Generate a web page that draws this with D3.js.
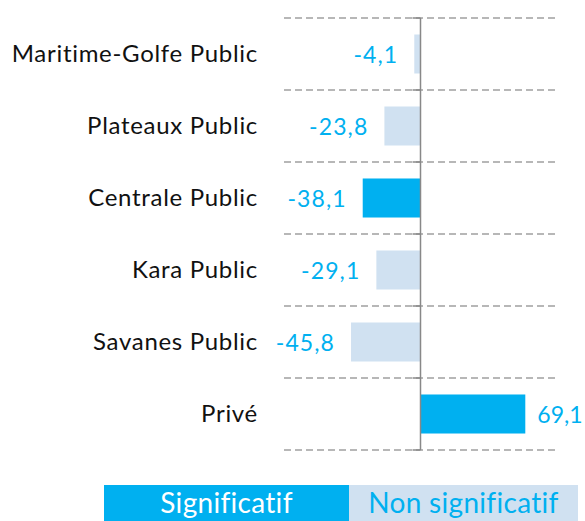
<!DOCTYPE html>
<html>
<head>
<meta charset="utf-8">
<script src="https://cdn.jsdelivr.net/npm/d3@7"></script>
<style>
  html, body { margin: 0; padding: 0; background: #fff; }
  svg { display: block; }
  text { font-family: Lato, "Open Sans", sans-serif; }
</style>
</head>
<body>
<svg id="chart" width="585" height="521"></svg>
<script>
const categories = ["Maritime-Golfe Public", "Plateaux Public", "Centrale Public", "Kara Public", "Savanes Public", "Privé"];
const values = [-4.1, -23.8, -38.1, -29.1, -45.8, 69.1];
const significant = [false, false, true, false, false, true];
const legendLabels = ["Significatif", "Non significatif"];

const colSig = "#00b0f0";
const colNon = "#d0e1f1";

const svg = d3.select("#chart");

const x = d3.scaleLinear().domain([-90, 90]).range([284, 557]);
const y = d3.scaleBand().domain(categories).range([18, 450]).paddingInner(0.458).paddingOuter(0.229);
const step = y.step();
const x0 = x(0);

// gridlines at band boundaries
const bounds = d3.range(categories.length + 1).map(i => 18 + i * step);
svg.append("g").selectAll("line").data(bounds).join("line")
  .attr("x1", x.range()[0]).attr("x2", x.range()[1])
  .attr("y1", d => d).attr("y2", d => d)
  .attr("stroke", "#a0a0a0").attr("stroke-width", 1.4)
  .attr("stroke-dasharray", "7,4");

const data = categories.map((c, i) => ({ c, v: values[i], s: significant[i] }));

// bars
svg.append("g").selectAll("rect").data(data).join("rect")
  .attr("x", d => Math.min(x(d.v), x0))
  .attr("width", d => Math.abs(x(d.v) - x0))
  .attr("y", d => y(d.c))
  .attr("height", y.bandwidth())
  .attr("fill", d => d.s ? colSig : colNon);

// zero axis
svg.append("line").attr("x1", x0).attr("x2", x0).attr("y1", bounds[0]).attr("y2", bounds[bounds.length - 1])
  .attr("stroke", "#888").attr("stroke-width", 1.5);
svg.append("g").selectAll("line").data(bounds).join("line")
  .attr("x1", x0 - 8).attr("x2", x0).attr("y1", d => d).attr("y2", d => d)
  .attr("stroke", "#888").attr("stroke-width", 1.5);

// value labels
const fmt = v => d3.format(".1f")(v).replace(".", ",").replace("−", "-");
svg.append("g").selectAll("text").data(data).join("text")
  .attr("x", d => d.v < 0 ? x(d.v) - 16 : x(d.v) + 12)
  .attr("y", d => y(d.c) + y.bandwidth() / 2 + 1)
  .attr("dy", "0.35em")
  .attr("text-anchor", d => d.v < 0 ? "end" : "start")
  .attr("fill", colSig)
  .attr("font-size", 23)
  .attr("letter-spacing", d => d.v < 0 ? 1.1 : 0)
  .text(d => fmt(d.v));

// category labels
svg.append("g").selectAll("text").data(data).join("text")
  .attr("x", 258)
  .attr("y", d => y(d.c) + y.bandwidth() / 2)
  .attr("dy", "0.35em")
  .attr("text-anchor", "end")
  .attr("fill", "#111")
  .attr("font-size", 24)
  .attr("letter-spacing", 0.7)
  .text(d => d.c);

// legend
const lg = svg.append("g");
const legendBoxes = [
  { x: 104, w: 245, fill: colSig, tc: "#fff" },
  { x: 349, w: 229, fill: colNon, tc: colSig }
];
legendBoxes.forEach((b, i) => {
  lg.append("rect").attr("x", b.x).attr("y", 485).attr("width", b.w).attr("height", 36).attr("fill", b.fill);
  lg.append("text").attr("x", b.x + b.w / 2).attr("y", 513)
    .attr("text-anchor", "middle").attr("fill", b.tc).attr("font-size", 28)
    .attr("letter-spacing", 0.3)
    .text(legendLabels[i]);
});
</script>
</body>
</html>
